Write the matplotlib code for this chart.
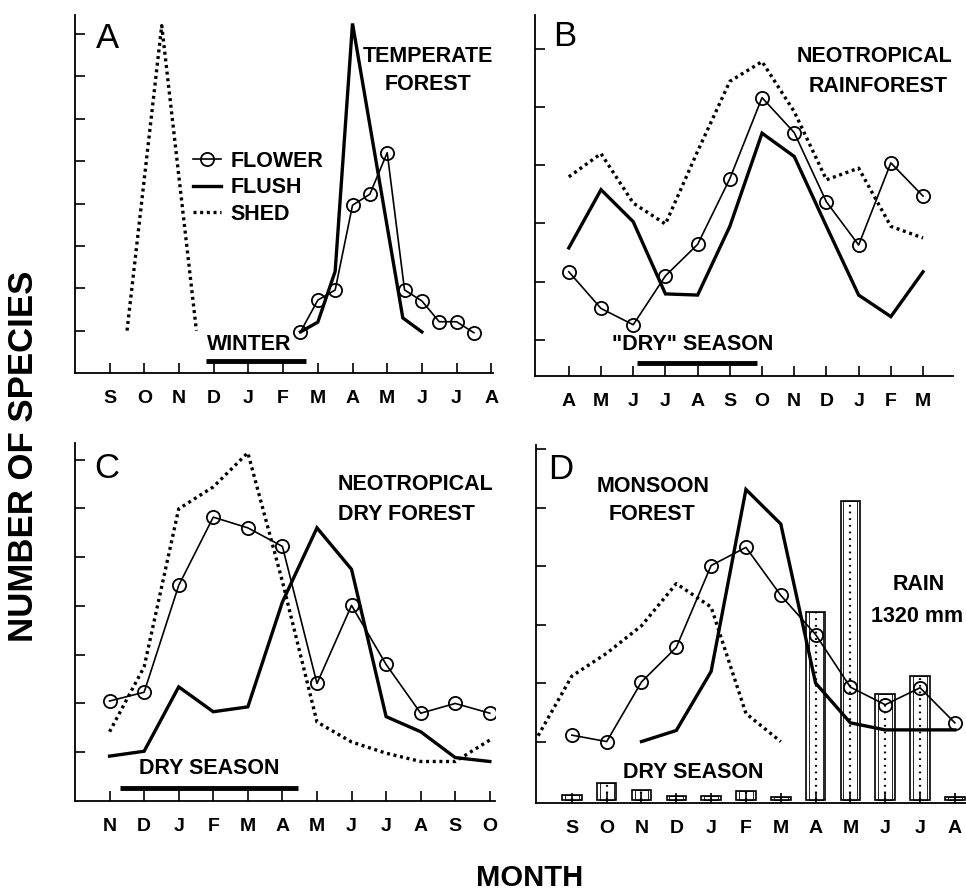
import matplotlib
matplotlib.use("Agg")
import matplotlib.pyplot as plt
from matplotlib.lines import Line2D

plt.rcParams['font.family'] = ['Liberation Sans', 'DejaVu Sans']
plt.rcParams['font.weight'] = 'bold'

# ---- panel A: temperate forest (semi-monthly points, S = 0) ----
months_a = ['S', 'O', 'N', 'D', 'J', 'F', 'M', 'A', 'M', 'J', 'J', 'A']
flower_a_x = [5.5, 6.0, 6.5, 7.0, 7.5, 8.0, 8.5, 9.0, 9.5, 10.0, 10.5]
flower_a = [0.97, 1.72, 1.96, 3.96, 4.22, 5.2, 1.96, 1.7, 1.21, 1.21, 0.95]
flush_a_x = [5.5, 6.0, 6.5, 7.0, 8.45, 9.0]
flush_a = [0.97, 1.2, 2.4, 8.25, 1.3, 0.97]
shed_a_x = [0.5, 1.5, 2.5]
shed_a = [1.0, 8.2, 1.0]
winter_a = (2.77, 5.65)

# ---- panel B: neotropical rainforest ----
months_b = ['A', 'M', 'J', 'J', 'A', 'S', 'O', 'N', 'D', 'J', 'F', 'M']
flower_b = [2.17, 1.54, 1.26, 2.1, 2.64, 3.77, 5.16, 4.56, 3.37, 2.63, 4.04, 3.47]
flush_b = [2.58, 3.58, 3.03, 1.79, 1.77, 2.95, 4.55, 4.15, 2.95, 1.77, 1.4, 2.17]
shed_b = [3.8, 4.2, 3.35, 2.99, 4.24, 5.44, 5.78, 4.92, 3.75, 3.95, 2.95, 2.75]
dry_b = (2.11, 5.84)

# ---- panel C: neotropical dry forest ----
months_c = ['N', 'D', 'J', 'F', 'M', 'A', 'M', 'J', 'J', 'A', 'S', 'O']
flower_c = [2.05, 2.23, 4.42, 5.82, 5.6, 5.22, 2.41, 4.01, 2.8, 1.8, 2.0, 1.8]
flush_c = [0.92, 1.02, 2.34, 1.83, 1.93, 4.08, 5.6, 4.75, 1.73, 1.42, 0.89, 0.81]
shed_c = [1.42, 2.75, 5.99, 6.44, 7.14, 4.5, 1.62, 1.21, 0.98, 0.81, 0.81, 1.25]
dry_c = (0.29, 5.46)

# ---- panel D: monsoon forest ----
months_d = ['S', 'O', 'N', 'D', 'J', 'F', 'M', 'A', 'M', 'J', 'J', 'A']
flower_d = [1.11, 1.0, 2.02, 2.61, 4.01, 4.32, 3.5, 2.83, 1.93, 1.63, 1.92, 1.32]
flush_d_x = [2, 3, 4, 5, 6, 7, 8, 9, 10, 11]
flush_d = [1.0, 1.19, 2.2, 5.31, 4.72, 2.0, 1.32, 1.2, 1.2, 1.2]
shed_d_x = [-0.97, 0, 1, 2, 3, 4, 5, 6]
shed_d = [1.1, 2.12, 2.51, 2.98, 3.7, 3.3, 1.48, 1.0]
rain_d = [0.08, 0.29, 0.17, 0.07, 0.07, 0.16, 0.06, 3.22, 5.12, 1.81, 2.12, 0.06]

W, H = 966, 891
fig = plt.figure(figsize=(W / 100, H / 100), dpi=100)


def px(x, y):
    return x / W, 1 - y / H


def make_ax(left, top, right, bottom):
    ax = fig.add_axes([left / W, 1 - bottom / H, (right - left) / W, (bottom - top) / H])
    for s in ['top', 'right']:
        ax.spines[s].set_visible(False)
    for s in ['left', 'bottom']:
        ax.spines[s].set_linewidth(1.3)
    ax.tick_params(direction='in', length=7, width=1.2, labelsize=14, pad=12)
    ax.set_yticklabels([])
    return ax


def draw(ax, xf, yf, xl, yl, xs, ys):
    ax.plot(xs, ys, color='black', lw=2.4, ls=(0, (0.9, 1.1)), zorder=3)
    ax.plot(xl, yl, color='black', lw=2.4, solid_joinstyle='miter', zorder=3)
    ax.plot(xf, yf, color='black', lw=1.2, marker='o', ms=9.5, mfc='none', mec='black', mew=1.3, zorder=4)


def set_months(ax, months):
    ax.set_xticks(range(12))
    ax.set_xticklabels(months, fontweight='bold')


# A
axA = make_ax(75, 15, 493, 373)
draw(axA, flower_a_x, flower_a, flush_a_x, flush_a, shed_a_x, shed_a)
axA.plot(winter_a, [0.28, 0.28], color='black', lw=3.5, solid_capstyle='butt')
set_months(axA, months_a)
axA.set_yticks(range(1, 9))
axA.set_xlim(-1, 11.05)
axA.set_ylim(0, 8.45)

handles = [
    Line2D([], [], color='black', lw=1.2, marker='o', ms=9.5, mfc='none', mec='black', mew=1.3),
    Line2D([], [], color='black', lw=2.4),
    Line2D([], [], color='black', lw=2.4, ls=(0, (0.9, 1.1))),
]
fig.legend(handles, ['FLOWER', 'FLUSH', 'SHED'], loc='upper left', bbox_to_anchor=px(193, 151),
           frameon=False, fontsize=15.5, handlelength=1.3, handletextpad=0.45,
           labelspacing=0.25, borderpad=0, borderaxespad=0)

# B
axB = make_ax(535, 15, 953, 376)
draw(axB, range(12), flower_b, range(12), flush_b, range(12), shed_b)
axB.plot(dry_b, [0.6, 0.6], color='black', lw=3.5, solid_capstyle='butt')
set_months(axB, months_b)
axB.set_yticks(range(1, 7))
axB.set_xlim(-1.05, 11.93)
axB.set_ylim(0.38, 6.58)

# C
axC = make_ax(75, 443, 495, 801)
draw(axC, range(12), flower_c, range(12), flush_c, range(12), shed_c)
axC.plot(dry_c, [0.27, 0.27], color='black', lw=3.5, solid_capstyle='butt')
set_months(axC, months_c)
axC.set_yticks(range(1, 8))
axC.set_xlim(-1, 11.15)
axC.set_ylim(0, 7.34)

# D
axD = make_ax(536, 445, 966, 803)
axD.bar(range(12), rain_d, width=0.56, color='white', edgecolor='black', lw=1.2, zorder=1)
axD.bar(range(12), rain_d, width=0.40, fill=False, edgecolor='black', lw=0.6, zorder=1)
axD.vlines(range(12), 0, rain_d, colors='black', lw=1.6, linestyles=(0, (0.8, 2.2)), zorder=1)
draw(axD, range(12), flower_d, flush_d_x, flush_d, shed_d_x, shed_d)
set_months(axD, months_d)
axD.set_yticks(range(1, 7))
axD.set_xlim(-1.03, 11.32)
axD.set_ylim(-0.05, 6.07)

# texts
big = dict(fontsize=25, fontweight='normal', ha='center', va='center')
mid = dict(fontsize=15.5, fontweight='bold', ha='center', va='center')
fig.text(*px(108, 39), 'A', **big)
fig.text(*px(565, 37), 'B', **big)
fig.text(*px(107, 468), 'C', **big)
fig.text(*px(561, 469), 'D', **big)

fig.text(*px(428, 56), 'TEMPERATE', **mid)
fig.text(*px(428, 84), 'FOREST', **mid)
fig.text(*px(249, 344), 'WINTER', **mid)

fig.text(*px(875, 57), 'NEOTROPICAL', **mid)
fig.text(*px(878, 87), 'RAINFOREST', **mid)
fig.text(*px(693, 345), '"DRY" SEASON', **mid)

fig.text(*px(338, 485), 'NEOTROPICAL', fontsize=15.5, fontweight='bold', ha='left', va='center')
fig.text(*px(338, 514), 'DRY FOREST', fontsize=15.5, fontweight='bold', ha='left', va='center')
fig.text(*px(209, 769), 'DRY SEASON', **mid)

fig.text(*px(653, 487), 'MONSOON', **mid)
fig.text(*px(652, 515), 'FOREST', **mid)
fig.text(*px(919, 584), 'RAIN', **mid)
fig.text(*px(917, 617), '1320 mm', **mid)
fig.text(*px(693, 773), 'DRY SEASON', **mid)

fig.text(*px(24, 456), 'NUMBER OF SPECIES', fontsize=25, fontweight='bold',
         rotation=90, ha='center', va='center')
fig.text(*px(530, 878), 'MONTH', fontsize=21, fontweight='bold', ha='center', va='center')

fig.savefig('out.png', dpi=100)
